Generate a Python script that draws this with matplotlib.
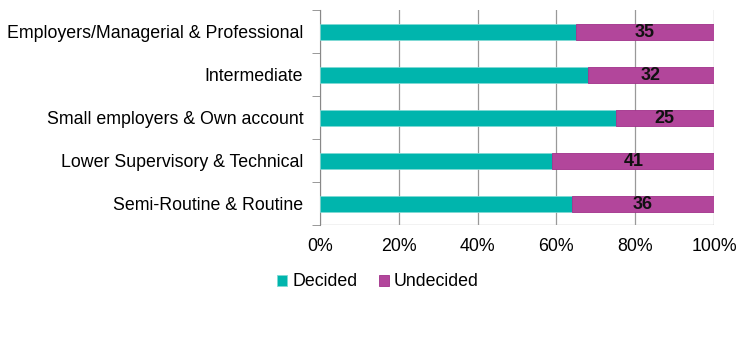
import matplotlib.pyplot as plt
import numpy as np

plt.rcParams['font.family'] = ['Liberation Sans', 'DejaVu Sans']

categories = ['Employers/Managerial & Professional', 'Intermediate',
              'Small employers & Own account', 'Lower Supervisory & Technical',
              'Semi-Routine & Routine']
decided = [65, 68, 75, 59, 64]
undecided = [35, 32, 25, 41, 36]

teal = '#00B5AD'
purple = '#B2469B'
fs = 12.8

fig = plt.figure(figsize=(7.54, 3.37), dpi=100)
ax = fig.add_axes([0.4244, 0.332, 0.5226, 0.638])

y = np.arange(len(categories))[::-1]
ax.barh(y, decided, height=0.37, color=teal, edgecolor='#7fd9d4', linewidth=0.6,
        label='Decided', zorder=3)
bars = ax.barh(y, undecided, left=decided, height=0.37, color=purple,
               edgecolor='#a0308a', linewidth=0.6, label='Undecided', zorder=3)
for b, v in zip(bars, undecided):
    ax.text(b.get_x() + b.get_width() / 2, b.get_y() + b.get_height() / 2 - 0.02,
            str(v), ha='center', va='center', fontsize=13, fontweight='bold',
            color='#111111', zorder=4)

ax.set_xlim(0, 100)
ax.set_ylim(-0.5, len(categories) - 0.5)
ax.set_xticks(range(0, 101, 20))
ax.set_xticklabels([f'{t}%' for t in range(0, 101, 20)], fontsize=fs)
ax.set_yticks(y)
ax.set_yticklabels(categories, fontsize=fs)
ax.tick_params(axis='y', length=0, pad=12)
ax.tick_params(axis='x', length=0, pad=9)
ax.set_yticks(np.arange(-0.5, len(categories)), minor=True)
ax.tick_params(axis='y', which='minor', length=6, color='#888888')
ax.grid(axis='x', color='#999999', linewidth=0.9, zorder=0)
for s in ['top', 'right', 'bottom']:
    ax.spines[s].set_visible(False)
ax.spines['left'].set_color('#888888')
ax.axhline(-0.5, color='#999999', linewidth=0.9, zorder=1)

fig.legend(loc='center', bbox_to_anchor=(378 / 754, 1 - 282 / 337), ncol=2,
           frameon=False, fontsize=fs, handlelength=0.55, handleheight=0.55,
           handletextpad=0.3, columnspacing=1.2)

fig.savefig('out.png', dpi=100)
